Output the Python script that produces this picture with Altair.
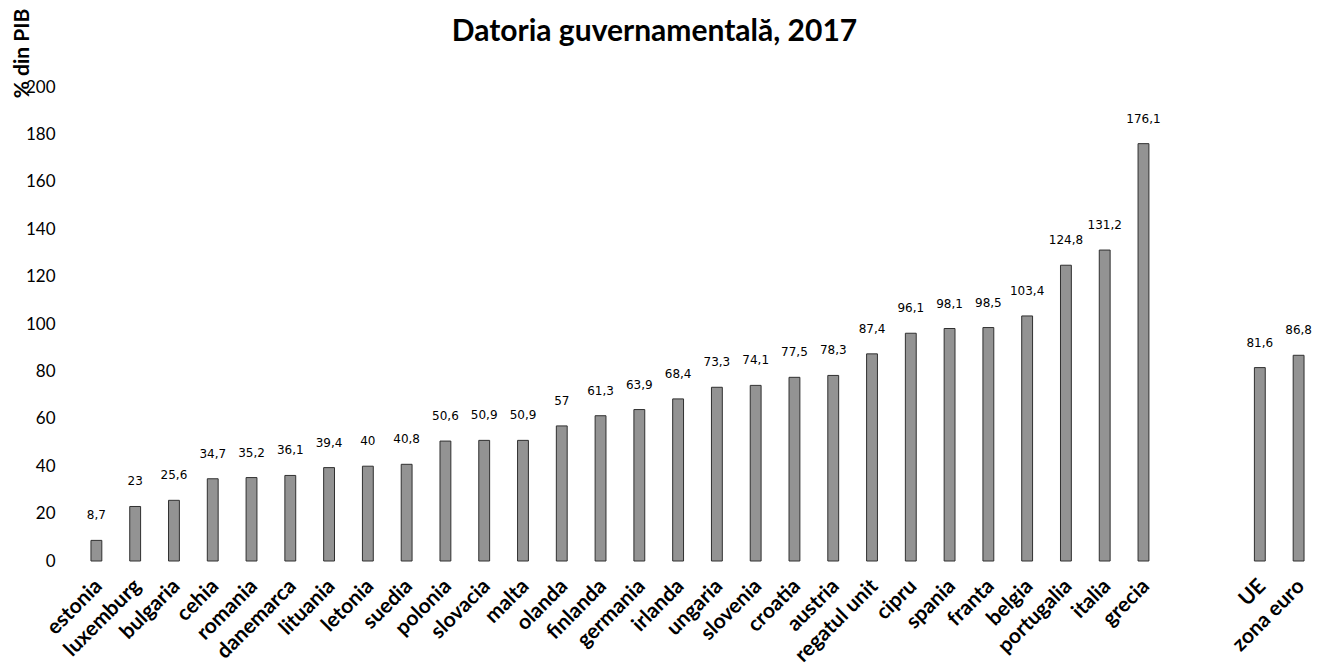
import altair as alt
import pandas as pd

categories = ["estonia", "luxemburg", "bulgaria", "cehia", "romania", "danemarca",
              "lituania", "letonia", "suedia", "polonia", "slovacia", "malta",
              "olanda", "finlanda", "germania", "irlanda", "ungaria", "slovenia",
              "croatia", "austria", "regatul unit", "cipru", "spania", "franta",
              "belgia", "portugalia", "italia", "grecia", "UE", "zona euro"]
values = [8.7, 23, 25.6, 34.7, 35.2, 36.1, 39.4, 40, 40.8, 50.6, 50.9, 50.9,
          57, 61.3, 63.9, 68.4, 73.3, 74.1, 77.5, 78.3, 87.4, 96.1, 98.1, 98.5,
          103.4, 124.8, 131.2, 176.1, 81.6, 86.8]
spacers = [" ", "  "]
y_ticks = [0, 20, 40, 60, 80, 100, 120, 140, 160, 180, 200]

domain = categories[:28] + spacers + categories[28:]

df = pd.DataFrame({
    "tara": categories,
    "val": values,
    "lbl": [f"{v:g}".replace(".", ",") for v in values],
})

x_enc = alt.X("tara:N", sort=domain,
              scale=alt.Scale(domain=domain, paddingInner=0.72, paddingOuter=0.36),
              axis=alt.Axis(title=None, labelAngle=-45, labelFont="Lato",
                            labelFontWeight="bold", labelFontSize=21,
                            labelColor="black", ticks=False, domain=False,
                            labelPadding=14, labelOffset=-5))
y_enc = alt.Y("val:Q", scale=alt.Scale(domain=[0, 200], nice=False),
              axis=alt.Axis(values=y_ticks, title="% din PIB", grid=False,
                            ticks=False, domain=False, labelFont="Lato",
                            labelFontSize=17, labelColor="black",
                            labelPadding=22, titleFont="Lato",
                            titleFontWeight="bold", titleFontSize=21,
                            titleColor="black", titleAngle=-90,
                            titleX=-55, titleY=-34, titleAlign="center",
                            titleBaseline="middle"))

bars = alt.Chart(df).mark_bar(color="#939393", stroke="#303030",
                              strokeWidth=1).encode(x=x_enc, y=y_enc)
labels = alt.Chart(df).mark_text(font="DejaVu Sans", fontSize=12, dy=-18,
                                 baseline="bottom", color="black").encode(
    x=alt.X("tara:N", sort=domain), y="val:Q", text="lbl:N")

chart = (bars + labels).properties(
    width=1241, height=474,
    padding={"left": 3, "top": 0, "right": 0, "bottom": 0},
    title=alt.Title("Datoria guvernamentală, 2017", font="Lato",
                    fontSize=30, fontWeight="bold", color="black",
                    anchor="middle", frame="bounds", offset=0, dy=39, dx=-10),
).configure_view(stroke=None)

chart.save("out.html", embed_options={"renderer": "svg", "actions": False})
